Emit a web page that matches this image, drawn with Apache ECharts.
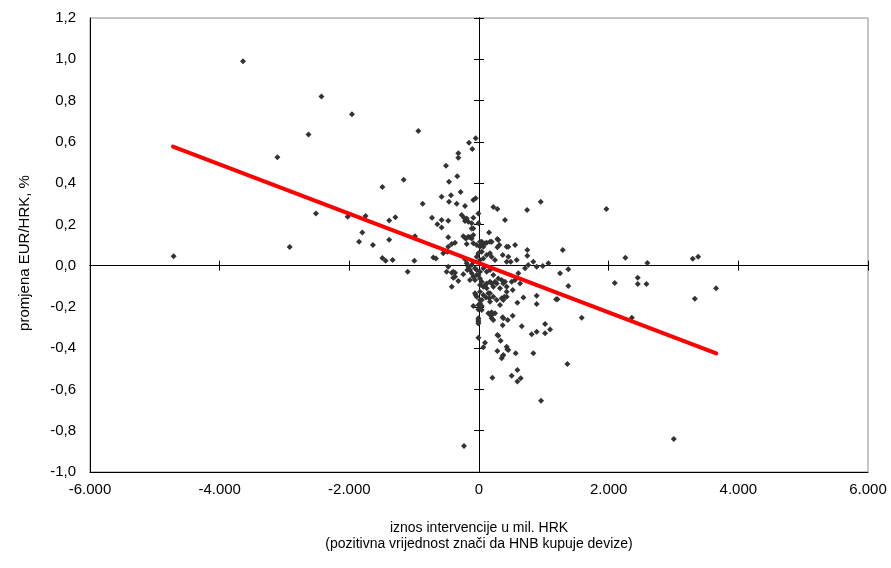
<!DOCTYPE html>
<html>
<head>
<meta charset="utf-8">
<script src="https://cdn.jsdelivr.net/npm/echarts@6/dist/echarts.min.js"></script>
<style>html,body{margin:0;padding:0;background:#fff}#c{width:891px;height:568px}</style>
</head>
<body>
<div id="c"></div>
<script>
var xTicks = [-6000, -4000, -2000, 0, 2000, 4000, 6000];
var yTicks = [-1.0, -0.8, -0.6, -0.4, -0.2, 0.0, 0.2, 0.4, 0.6, 0.8, 1.0, 1.2];
var xTitle = 'iznos intervencije u mil. HRK\n(pozitivna vrijednost znači da HNB kupuje devize)';
var yTitle = 'promjena EUR/HRK, %';

var scatterPoints = [
[-4710,0.045],[-3640,0.99],[-3110,0.525],[-2920,0.09],[-2630,0.635],[-2515,0.253],[-2430,0.82],[-2025,0.237],[-1960,0.733],[-1850,0.116],[-1800,0.161],[-1750,0.24],[-1636,0.10],[-1490,0.381],[-1490,0.037],[-1440,0.024],[-1385,0.219],[-1385,0.125],[-1290,0.234],[-1332,0.027],[-1162,0.416],[-1100,-0.03],[-998,0.024],[-988,0.143],[-936,0.652],[-869,0.30],
[-725,0.232],[-705,0.04],[-664,0.035],[-643,0.201],[-576,0.221],[-576,0.185],[-576,0.334],[-551,0.06],[-509,0.484],[-499,-0.03],[-489,0.067],[-474,0.218],[-474,0.137],[-474,0.092],[-474,-0.005],[-463,0.407],[-463,0.31],[-432,0.341],[-420,0.105],[-420,-0.034],[-420,-0.102],[-397,-0.03],[-397,-0.059],[-370,0.111],[-370,-0.034],[-370,-0.054],[-344,0.30],[-335,0.433],[-319,0.544],[-319,0.523],[-319,-0.075],[-283,0.357],[-267,0.245],[-242,0.143],[-242,-0.042],[-231,0.232],[-231,-0.874],[-216,0.289],[-216,0.216],[-216,0.135],[-216,0.031],[-200,0.132],[-190,0.229],[-190,0.105],[-190,0.011],[-180,-0.021],[-165,0.213],[-165,0.14],[-165,-0.005],[-154,0.596],[-139,0.137],[-139,-0.021],[-139,-0.07],[-113,0.205],[-113,0.18],[-113,0.132],[-113,0.003],[-113,-0.037],[-103,0.565],[-88,0.318],[-88,0.232],[-88,0.18],[-88,0.148],[-88,0.108],[-88,0.019],[-88,-0.054],[-88,-0.196],[-62,-0.013],[-62,-0.07],[-62,-0.134],[-51,0.617],[-51,0.326],[-51,-0.142],[-36,0.1],[-36,0.043],[-36,-0.021],[-36,-0.045],[-36,-0.151],[-10,0.253],[-10,0.205],[-10,0.06],[-10,-0.045],[-10,-0.191],[-10,-0.212],[-10,-0.255],[-10,-0.264],[-10,-0.272],[-10,-0.28],[-10,-0.349],
[15,0.116],[15,0.092],[15,0.027],[15,-0.03],[15,-0.062],[15,-0.094],[15,-0.126],[15,-0.167],[15,-0.183],[15,-0.207],[42,0.116],[42,0.067],[42,-0.078],[42,-0.167],[42,-0.196],[42,-0.215],[50,0.1],[67,0.092],[67,0.035],[67,-0.013],[67,-0.102],[67,-0.142],[67,-0.396],[93,0.108],[93,-0.094],[93,-0.374],[108,-0.154],[119,0.111],[119,0.051],[119,-0.03],[119,-0.086],[119,-0.11],[144,-0.134],[144,-0.231],[154,0.161],[159,-0.158],[170,0.116],[170,0.06],[170,-0.021],[170,-0.078],[170,-0.134],[170,-0.175],[185,-0.243],[195,0.116],[195,0.043],[195,-0.086],[195,-0.226],[195,-0.239],[195,-0.255],[206,-0.543],[221,0.284],[221,-0.045],[221,-0.102],[221,-0.151],[221,-0.264],[247,0.027],[247,-0.078],[247,-0.231],[273,-0.086],[273,-0.167],[283,0.274],[283,0.129],[283,0.089],[283,-0.336],[283,-0.414],[298,0.124],[298,-0.062],[298,-0.34],[314,0.1],[324,-0.11],[324,-0.191],[334,-0.364],[350,-0.07],[350,-0.158],[350,-0.449],[365,0.051],[365,-0.289],[365,-0.25],[365,-0.438],[375,-0.086],[375,-0.167],[375,-0.255],[375,-0.433],[391,-0.151],[401,0.221],[401,-0.078],[427,0.019],[427,0.092],[427,-0.102],[427,-0.126],[427,-0.151],[427,-0.393],[437,-0.405],[443,-0.264],[452,0.043],[452,0.092],[452,-0.409],[489,0.019],[504,-0.078],[504,-0.533],[520,-0.118],[520,-0.243],[556,0.10],[556,-0.07],[566,-0.425],[581,0.027],[592,-0.18],[592,-0.506],[592,-0.562],[606,-0.037],[633,-0.086],[643,-0.546],[659,-0.294],[685,-0.154],[710,-0.013],[741,0.269],[745,0.076],[745,0.048],[760,0.003],[813,-0.333],[838,0.019],[838,-0.425],[890,-0.005],[890,-0.146],[890,-0.186],[890,-0.32],[952,0.31],[957,-0.655],[983,-0.002],[1019,-0.328],[1019,-0.283],[1070,0.011],[1096,-0.309],[1190,-0.163],[1210,-0.163],[1250,-0.037],[1292,0.076],[1363,-0.477],[1378,-0.018],[1378,-0.099],[1585,-0.252],[1965,0.274],[2094,-0.084],[2258,0.038],[2357,-0.252],[2449,-0.059],[2449,-0.089],[2583,-0.089],[2597,0.013],[3005,-0.84],[3297,0.033],[3329,-0.16],[3380,0.043],[3657,-0.11]
];
var trendLine = [[-4720, 0.577], [3660, -0.425]];

function fmtX(v) {
  var s = Math.abs(Math.round(v)).toString().replace(/\B(?=(\d{3})+(?!\d))/g, '.');
  return (v < 0 ? '-' : '') + s;
}
function fmtY(v) {
  var r = Math.round(v * 10) / 10;
  if (Math.abs(r) < 1e-9) r = 0;
  return r.toFixed(1).replace('.', ',');
}

var chart = echarts.init(document.getElementById('c'), null, {renderer: 'canvas'});
var font = 'Liberation Sans, Arial, sans-serif';
var xBase = {type: 'value', min: xTicks[0], max: xTicks[xTicks.length - 1], interval: 2000, splitLine: {show: false}};
var yBase = {type: 'value', min: yTicks[0], max: yTicks[yTicks.length - 1], interval: 0.2, splitLine: {show: false}};

chart.setOption({
  animation: false,
  backgroundColor: '#fff',
  grid: {left: 90, right: 23, top: 18, bottom: 96, show: true, borderColor: '#8c8c8c', borderWidth: 1, backgroundColor: 'transparent'},
  xAxis: [
    Object.assign({}, xBase, {
      position: 'bottom',
      axisLine: {onZero: false, lineStyle: {color: '#000', width: 1}},
      axisTick: {show: false},
      axisLabel: {formatter: fmtX, color: '#000', fontSize: 15, fontFamily: font, margin: 10},
      name: xTitle, nameLocation: 'middle', nameGap: 48,
      nameTextStyle: {color: '#000', fontSize: 14, fontFamily: font, lineHeight: 16}
    }),
    Object.assign({}, xBase, {
      position: 'bottom',
      axisLine: {onZero: true, lineStyle: {color: '#000', width: 1}},
      axisTick: {show: true, length: 5, lineStyle: {color: '#000'}},
      axisLabel: {show: false}
    }),
    Object.assign({}, xBase, {
      position: 'top',
      axisLine: {onZero: true, lineStyle: {color: '#000', width: 1}},
      axisTick: {show: true, length: 5, lineStyle: {color: '#000'}},
      axisLabel: {show: false}
    })
  ],
  yAxis: [
    Object.assign({}, yBase, {
      position: 'left',
      axisLine: {show: true, onZero: false, lineStyle: {color: '#000', width: 1}},
      axisTick: {show: false},
      axisLabel: {formatter: fmtY, color: '#000', fontSize: 15, fontFamily: font, margin: 14},
      name: yTitle, nameLocation: 'middle', nameGap: 58, nameRotate: 90,
      nameTextStyle: {color: '#000', fontSize: 15, fontFamily: font, padding: [0, 16, 0, 0]}
    }),
    Object.assign({}, yBase, {
      position: 'left',
      axisLine: {show: true, onZero: true, lineStyle: {color: '#000', width: 1}},
      axisTick: {show: true, length: 5, lineStyle: {color: '#000'}},
      axisLabel: {show: false}
    }),
    Object.assign({}, yBase, {
      position: 'right',
      axisLine: {show: true, onZero: true, lineStyle: {color: '#000', width: 1}},
      axisTick: {show: true, length: 5, lineStyle: {color: '#000'}},
      axisLabel: {show: false}
    })
  ],
  series: [
    {
      type: 'scatter', xAxisIndex: 0, yAxisIndex: 0,
      data: scatterPoints,
      symbol: 'diamond', symbolSize: 6,
      itemStyle: {color: '#333333', opacity: 1},
      z: 3
    },
    {
      type: 'line', xAxisIndex: 0, yAxisIndex: 0,
      data: trendLine,
      showSymbol: false, symbol: 'none',
      lineStyle: {color: '#ff0000', width: 4, cap: 'round'},
      z: 4
    }
  ]
});
</script>
</body>
</html>
